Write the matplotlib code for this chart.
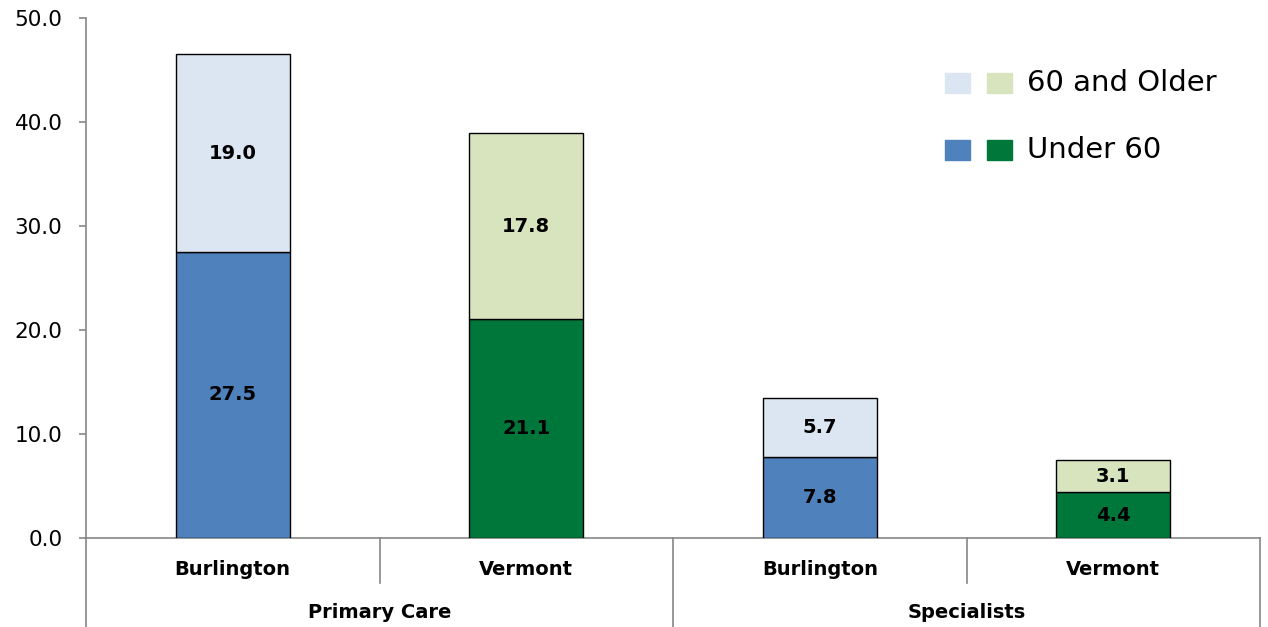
import numpy as np
import matplotlib.pyplot as plt
from matplotlib.patches import Rectangle
import matplotlib.transforms as mtransforms

places = ["Burlington", "Vermont", "Burlington", "Vermont"]
groups = ["Primary Care", "Specialists"]
under60 = [27.5, 21.1, 7.8, 4.4]
older60 = [19.0, 17.8, 5.7, 3.1]
yticks = [0, 10, 20, 30, 40, 50]

dark = ["#4f81bd", "#00773a", "#4f81bd", "#00773a"]
light = ["#dce6f2", "#d7e4bd", "#dce6f2", "#d7e4bd"]
grey = "#868686"
bold_font = ["Liberation Sans Narrow", "DejaVu Sans"]

fig = plt.figure(figsize=(12.68, 6.27), dpi=100)
ax = fig.add_axes([86/1268, 89/627, 1174/1268, 520/627])

x = np.arange(len(places)) + 0.5
ax.bar(x, under60, width=0.39, color=dark, edgecolor="black", linewidth=1, zorder=3)
ax.bar(x, older60, width=0.39, bottom=under60, color=light, edgecolor="black",
       linewidth=1, zorder=3)

for xi, u, o in zip(x, under60, older60):
    ax.text(xi, u/2, f"{u:.1f}", ha="center", va="center", fontsize=14,
            fontweight="bold", family=bold_font, zorder=4)
    ax.text(xi, u + o/2, f"{o:.1f}", ha="center", va="center", fontsize=14,
            fontweight="bold", family=bold_font, zorder=4)

ax.set_xlim(0, len(places))
ax.set_ylim(0, 50)
ax.set_yticks(yticks)
ax.set_yticklabels([f"{v:.1f}" for v in yticks], fontsize=15.5)
ax.tick_params(axis="y", length=5, color=grey, width=1.2, pad=12)
ax.set_xticks([])
for s in ["top", "right"]:
    ax.spines[s].set_visible(False)
for s in ["left", "bottom"]:
    ax.spines[s].set_color(grey)
    ax.spines[s].set_linewidth(1.2)

# two-level category axis
trans = mtransforms.blended_transform_factory(ax.transData, ax.transAxes)
for i in range(len(places) + 1):
    low = -0.171 if i % 2 == 0 else -0.0865
    ax.plot([i, i], [0, low], color=grey, lw=1.2, transform=trans, clip_on=False)
for xi, name in zip(x, places):
    ax.text(xi, -0.06, name, transform=trans, ha="center", va="center",
            fontsize=14, fontweight="bold", family=bold_font)
for gi, g in enumerate(groups):
    ax.text(2*gi + 1, -0.144, g, transform=trans, ha="center", va="center",
            fontsize=14, fontweight="bold", family=bold_font)

# legend
rows = [("60 and Older", light[0], light[1], 83), ("Under 60", dark[0], dark[1], 150)]
for label, c1, c2, yp in rows:
    for x0, c in [(945, c1), (987, c2)]:
        fig.patches.append(Rectangle((x0/1268, 1 - (yp + 10)/627), 25/1268, 20/627,
                                     transform=fig.transFigure, color=c))
    fig.text(1027/1268, 1 - yp/627, label, ha="left", va="center", fontsize=21)

fig.savefig("out.png", dpi=100)
